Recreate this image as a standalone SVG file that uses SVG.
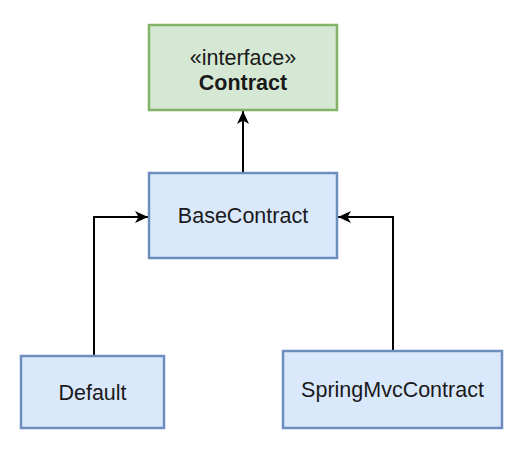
<svg xmlns="http://www.w3.org/2000/svg" width="520" height="466" viewBox="0 0 520 466">
<defs>
<style>
.blue{fill:#dae8fc;stroke:#6c8ebf;stroke-width:2.5}
.green{fill:#d5e8d4;stroke:#82b366;stroke-width:2.5}
.t{font-family:"Liberation Sans",Arial,sans-serif;font-size:21.5px;fill:#1a1a1a;text-anchor:middle}
.b{font-weight:bold}
.c{fill:none;stroke:#000;stroke-width:2}
</style>
<marker id="arr" markerWidth="14" markerHeight="12" refX="13" refY="6" orient="auto" markerUnits="userSpaceOnUse">
<path d="M0,0 L13,6 L0,12 L3.5,6 Z" fill="#000"/>
</marker>
</defs>
<rect width="520" height="466" fill="#fff"/>
<g id="connectors">
<path class="c" d="M243,173 V111" marker-end="url(#arr)"/>
<path class="c" d="M94,356 V217 H148" marker-end="url(#arr)"/>
<path class="c" d="M393,351 V217 H338" marker-end="url(#arr)"/>
</g>
<g id="contract">
<rect class="green" x="149" y="25" width="188" height="85"/>
<text class="t" x="243" y="65">«interface»</text>
<text class="t b" x="243" y="90">Contract</text>
</g>
<g id="basecontract">
<rect class="blue" x="149" y="173" width="188" height="85"/>
<text class="t" x="243" y="223">BaseContract</text>
</g>
<g id="default">
<rect class="blue" x="21" y="356" width="143" height="72"/>
<text class="t" x="92.5" y="400">Default</text>
</g>
<g id="springmvccontract">
<rect class="blue" x="283" y="351" width="219" height="77"/>
<text class="t" x="392.5" y="397">SpringMvcContract</text>
</g>
</svg>
